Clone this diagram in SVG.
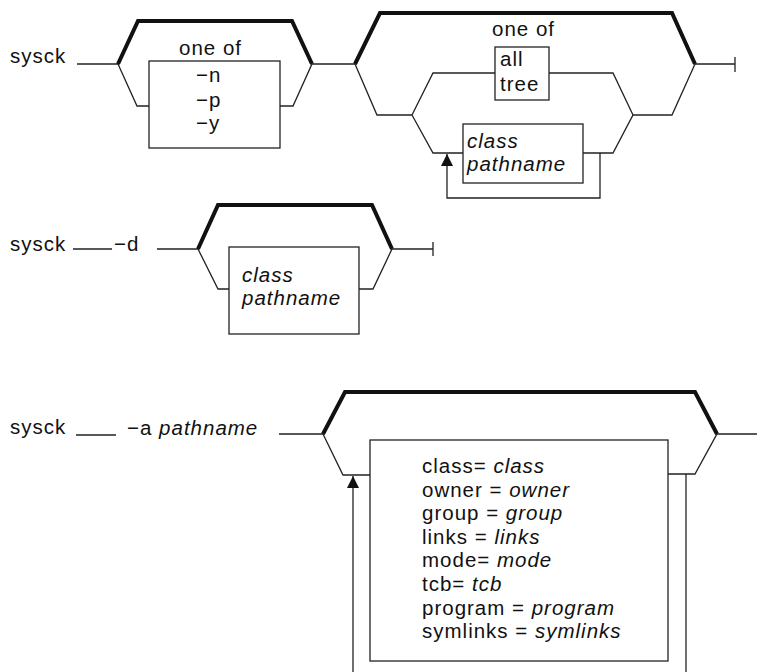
<svg xmlns="http://www.w3.org/2000/svg" width="757" height="672" viewBox="0 0 757 672">
<defs>
<style>
text{font-family:"Liberation Sans",Arial,sans-serif;font-size:20.5px;fill:#111;letter-spacing:1px}
.it{font-style:italic}
.box{fill:none;stroke:#222;stroke-width:1.3}
.ln{fill:none;stroke:#222;stroke-width:1.3}
.hv{fill:none;stroke:#111;stroke-width:4;stroke-linejoin:miter}
</style>
<marker id="arr" markerWidth="14" markerHeight="14" refX="13" refY="7" orient="auto" markerUnits="userSpaceOnUse" viewBox="0 0 14 14">
<path d="M1,1 L13,7 L1,13 Z" fill="#111"/>
</marker>
</defs>
<rect width="757" height="672" fill="#fff"/>

<!-- Diagram 1 -->
<g id="d1-cmd"><text x="10" y="63">sysck</text></g>
<g id="d1-flags">
<text x="179" y="55">one of</text>
<rect class="box" x="149" y="61" width="131" height="87"/>
<text x="196" y="82">−n</text>
<text x="196" y="107">−p</text>
<text x="196" y="130">−y</text>
</g>
<g id="d1-oneof"><text x="492" y="36">one of</text></g>
<g id="d1-alltree">
<rect class="box" x="495" y="47" width="54" height="53"/>
<text x="500" y="66">all</text>
<text x="500" y="91">tree</text>
</g>
<g id="d1-classpath">
<rect class="box" x="463" y="124" width="120" height="59"/>
<text class="it" x="467" y="148">class</text>
<text class="it" x="467" y="171">pathname</text>
</g>

<!-- Diagram 2 -->
<g id="d2-cmd"><text x="10" y="251">sysck</text></g>
<g id="d2-d"><text x="114" y="251">−d</text></g>
<g id="d2-classpath">
<rect class="box" x="229" y="247" width="130" height="87"/>
<text class="it" x="242" y="282">class</text>
<text class="it" x="242" y="305">pathname</text>
</g>

<!-- Diagram 3 -->
<g id="d3-cmd"><text x="10" y="434">sysck</text></g>
<g id="d3-a"><text x="127" y="435">−a <tspan class="it">pathname</tspan></text></g>
<g id="d3-attrs">
<rect class="box" x="370" y="440" width="298" height="221"/>
<text x="422" y="473">class= <tspan class="it">class</tspan></text>
<text x="422" y="497">owner = <tspan class="it">owner</tspan></text>
<text x="422" y="520">group = <tspan class="it">group</tspan></text>
<text x="422" y="544">links = <tspan class="it">links</tspan></text>
<text x="422" y="567">mode= <tspan class="it">mode</tspan></text>
<text x="422" y="591">tcb= <tspan class="it">tcb</tspan></text>
<text x="422" y="615">program = <tspan class="it">program</tspan></text>
<text x="422" y="638">symlinks = <tspan class="it">symlinks</tspan></text>
</g>

<g id="connectors">
<!-- diagram 1 -->
<path class="ln" d="M77,64 H118"/>
<path class="hv" d="M118,64 L138,21 H292 L312,64"/>
<path class="ln" d="M118,64 L137,106 H149"/>
<path class="ln" d="M280,106 H293 L312,64 H355"/>
<path class="hv" d="M355,64 L380,13 H672 L695,64"/>
<path class="ln" d="M695,64 H735 M735,57 V72"/>
<path class="ln" d="M355,64 L377,115 H412"/>
<path class="ln" d="M412,115 L433,73 H495"/>
<path class="ln" d="M412,115 L433,153 H463"/>
<path class="ln" d="M549,73 H613 L633,115"/>
<path class="ln" d="M583,153 H613 L633,115 H672 L695,64"/>
<path class="ln" d="M600,153 V198 H447 V154" marker-end="url(#arr)"/>
<!-- diagram 2 -->
<path class="ln" d="M73,249 H112 M157,249 H198"/>
<path class="hv" d="M198,249 L218,205 H372 L392,249"/>
<path class="ln" d="M198,249 L218,289 H229"/>
<path class="ln" d="M359,289 H373 L392,249 H433 M433,242 V256"/>
<!-- diagram 3 -->
<path class="ln" d="M76,435 H116 M279,434 H323"/>
<path class="hv" d="M323,434 L345,392 H695 L717,434"/>
<path class="ln" d="M323,434 L343,475 H370"/>
<path class="ln" d="M668,474 H695 L717,434 H757"/>
<path class="ln" d="M686,474 V672"/>
<path class="ln" d="M353,672 V476" marker-end="url(#arr)"/>
</g>
</svg>
